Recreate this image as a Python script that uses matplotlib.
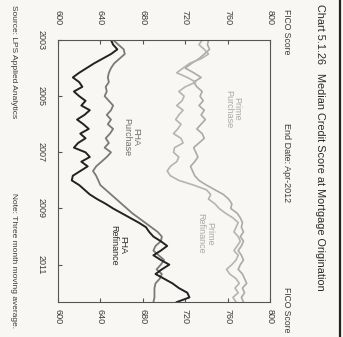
import numpy as np
import matplotlib
matplotlib.use("Agg")
import matplotlib.pyplot as plt
from matplotlib.lines import Line2D
from matplotlib import font_manager

# scanned page is turned 90 degrees: FICO runs left->right, time runs top->bottom
dates = 2003 + np.arange(57) / 6  # every two months, Jan-2003 .. Apr-2012

fha_refi = [650, 652, 656, 650, 642, 634, 627, 620, 614, 620, 623, 615,
            620, 626, 622, 630, 625, 618, 624, 629, 621, 626, 619, 615,
            626, 630, 622, 628, 621, 614, 613, 620, 625, 630, 637, 645,
            652, 660, 668, 676, 683, 686, 690, 697, 703, 697, 690, 697,
            705, 698, 692, 700, 708, 714, 722, 724, 712]
fha_purchase = [652, 657, 662, 663, 658, 653, 650, 648, 647, 648, 645, 646,
                644, 648, 652, 650, 646, 650, 647, 652, 649, 645, 648, 644,
                650, 646, 641, 636, 633, 636, 638, 640, 645, 650, 655, 660,
                665, 670, 676, 682, 688, 694, 698, 697, 692, 690, 695, 700,
                697, 693, 698, 696, 692, 691, 691, 691, 690]
prime_purchase = [742, 741, 743, 738, 733, 726, 720, 728, 735, 728, 731, 736,
                  734, 737, 733, 738, 735, 739, 735, 731, 736, 738, 733, 728,
                  730, 732, 729, 725, 727, 729, 733, 740, 748, 756, 761, 764,
                  763, 769, 772, 774, 773, 775, 772, 775, 773, 770, 773, 775,
                  772, 770, 774, 776, 778, 774, 776, 773, 775]
prime_refi = [736, 733, 738, 742, 735, 724, 718, 712, 722, 730, 720, 714,
              719, 717, 712, 718, 714, 711, 716, 713, 709, 716, 718, 710,
              709, 714, 712, 706, 703, 706, 714, 728, 740, 744, 742, 748,
              752, 758, 765, 770, 768, 766, 770, 772, 769, 766, 770, 768,
              764, 759, 762, 768, 771, 767, 770, 765, 768]

fico_ticks = [600, 640, 680, 720, 760, 800]
year_ticks = [2003, 2005, 2007, 2009, 2011]

names = {f.name for f in font_manager.fontManager.ttflist}
narrow = "Liberation Sans Narrow" if "Liberation Sans Narrow" in names else "Liberation Sans"
plt.rcParams["font.family"] = [narrow, "DejaVu Sans"]

ink = "#3a3a3a"
paper = "#f8f7f4"

fig = plt.figure(figsize=(3.43, 3.37), dpi=100, facecolor=paper)
ax = fig.add_axes([58 / 343, 35 / 337, 212 / 343, 262 / 337])
ax.set_facecolor(paper)

ax.plot(prime_purchase, dates, color="#aaaaaa", lw=1.2)
ax.plot(prime_refi, dates, color="#b4b4b4", lw=1.2)
ax.plot(fha_purchase, dates, color="#7a7a7a", lw=1.3)
ax.plot(fha_refi, dates, color="#222222", lw=1.4)

ax.set_xlim(600, 800)
ax.set_ylim(2012.33, 2003)
for s in ax.spines.values():
    s.set_color("#555555")
    s.set_linewidth(0.8)

ax.set_xticks(fico_ticks)
ax.set_yticks(year_ticks)
ax.tick_params(axis="x", direction="in", length=3, color="#555555", pad=5,
               labelsize=6.5, labelcolor=ink, labelrotation=-90)
ax.tick_params(axis="y", direction="in", length=3, color="#555555", pad=9,
               labelsize=6.5, labelcolor=ink, labelrotation=-90)
for lab in ax.get_yticklabels():
    lab.set_verticalalignment("center")

top = ax.secondary_xaxis("top")
top.set_xticks(fico_ticks)
top.tick_params(direction="in", length=3, color="#555555", pad=11,
                labelsize=6.5, labelcolor=ink, labelrotation=-90)
top.spines["top"].set_visible(False)

# series labels
ax.text(765, 2005.45, "Prime\nPurchase", rotation=-90, ha="center", va="center",
        fontsize=6.5, color="#a8a8a8", linespacing=0.95)
ax.text(669, 2006.45, "FHA\nPurchase", rotation=-90, ha="center", va="center",
        fontsize=6.5, color="#6e6e6e", linespacing=0.95)
ax.text(739, 2009.9, "Prime\nRefinance", rotation=-90, ha="center", va="center",
        fontsize=6.5, color="#a8a8a8", linespacing=0.95)
ax.text(657, 2010.3, "FHA\nRefinance", rotation=-90, ha="center", va="center",
        fontsize=6.5, color="#2a2a2a", linespacing=0.95)

# page text around the chart
fig.text(320 / 343, 1 - 4 / 337,
         "Chart 5.1.26   Median Credit Score at Mortgage Origination",
         rotation=-90, ha="center", va="top", fontsize=7.8, color="#2a2a2a")
fig.text(287 / 343, 1 - 9 / 337, "FICO Score", rotation=-90, ha="center",
         va="top", fontsize=6.2, color=ink)
fig.text(287 / 343, 1 - 123 / 337, "End Date: Apr-2012", rotation=-90,
         ha="center", va="top", fontsize=6.5, color=ink)
fig.text(287 / 343, 1 - 287 / 337, "FICO Score", rotation=-90, ha="center",
         va="top", fontsize=6.2, color=ink)
fig.text(13 / 343, 1 - 5 / 337, "Source: LPS Applied Analytics", rotation=-90,
         ha="center", va="top", fontsize=6, color=ink)
fig.text(13 / 343, 1 - 193 / 337, "Note: Three month moving average.",
         rotation=-90, ha="center", va="top", fontsize=6, color=ink)

fig.add_artist(Line2D([340 / 343, 340 / 343], [0, 1], color="#222222", lw=1.6))

fig.savefig("out.png", dpi=100, facecolor=paper)
